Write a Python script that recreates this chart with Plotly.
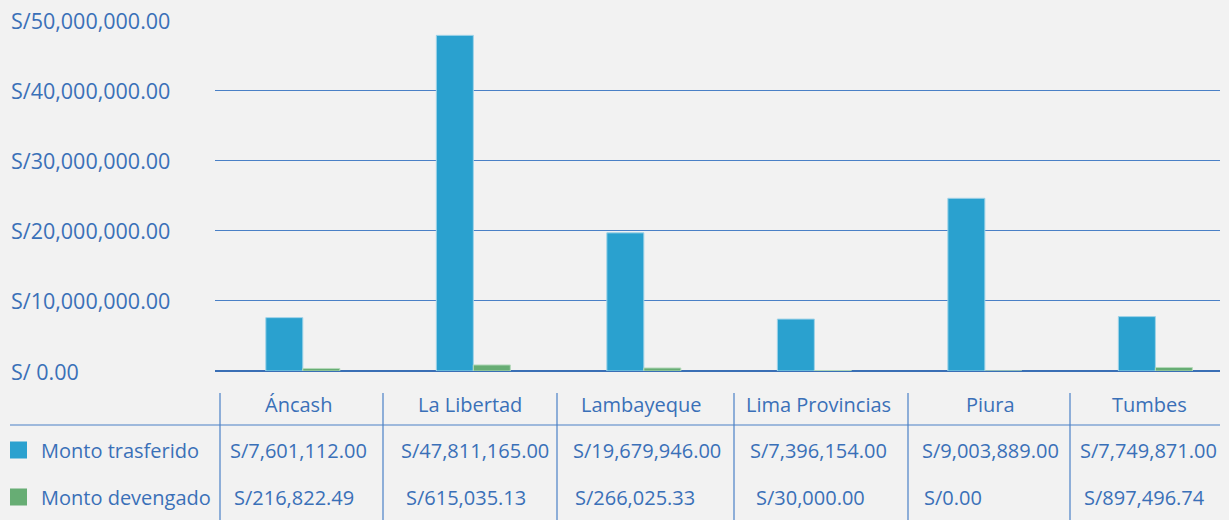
import plotly.graph_objects as go

regiones = ["Áncash", "La Libertad", "Lambayeque", "Lima Provincias", "Piura", "Tumbes"]
monto_trasferido = [7601112.00, 47811165.00, 19679946.00, 7396154.00, 24600000.00, 7749871.00]
monto_devengado = [360000.00, 860000.00, 430000.00, 60000.00, 0.00, 500000.00]
tabla_trasferido = ["S/7,601,112.00", "S/47,811,165.00", "S/19,679,946.00", "S/7,396,154.00", "S/9,003,889.00", "S/7,749,871.00"]
tabla_devengado = ["S/216,822.49", "S/615,035.13", "S/266,025.33", "S/30,000.00", "S/0.00", "S/897,496.74"]
tick_vals = [0, 10000000, 20000000, 30000000, 40000000, 50000000]
tick_text = ["S/ 0.00", "S/10,000,000.00", "S/20,000,000.00", "S/30,000,000.00", "S/40,000,000.00", "S/50,000,000.00"]
series_names = ["Monto trasferido", "Monto devengado"]

BLUE = "#2aa1cf"
GREEN = "#67ad74"
TEXT = "#3a70b8"
LINE = "#4a80c6"
BG = "#f2f2f2"
FONT = "Open Sans"
TICK_SIZE = 21.5
TABLE_SIZE = 20

W, H = 1229, 520
L, R, T, B = 215, 1220, 20, 371

# table layout (pixels)
COL_SEP = [220, 383, 557, 734, 908, 1070]
COL_RIGHT = 1220
HEAD_X = [298, 470, 641, 818, 990, 1149]
ROW1_X = [298, 475, 647, 818, 990, 1148]
ROW2_X = [232, 404, 573, 754, 922, 1082]


def px(x):
    return (x - L) / (R - L)


def py(y):
    return (B - y) / (B - T)


fig = go.Figure()
fig.add_trace(go.Bar(x=regiones, y=monto_trasferido, name=series_names[0],
                     marker=dict(color=BLUE, line=dict(color="#9fd3e8", width=1))))
fig.add_trace(go.Bar(x=regiones, y=monto_devengado, name=series_names[1],
                     marker=dict(color=GREEN, line=dict(color="#b5d9bb", width=1))))

fig.update_layout(
    width=W, height=H,
    paper_bgcolor=BG, plot_bgcolor=BG,
    margin=dict(l=L, r=W - R, t=T, b=H - B),
    barmode="group", bargap=0.566, bargroupgap=0,
    showlegend=False,
    font=dict(family=FONT, color=TEXT, size=TABLE_SIZE),
    xaxis=dict(range=[-0.515, 5.379], showticklabels=False, showgrid=False, zeroline=False,
               showline=False, ticks=""),
    yaxis=dict(range=[0, 50000000], tickvals=tick_vals, showticklabels=False,
               showgrid=True, gridcolor=LINE, gridwidth=1,
               zeroline=True, zerolinecolor="#3a6fb5", zerolinewidth=2, showline=False),
)

ann = []
for v, t in zip(tick_vals, tick_text):
    ann.append(dict(x=px(9), y=v, xref="paper", yref="y", text=t, showarrow=False,
                    xanchor="left", yanchor="middle", font=dict(size=TICK_SIZE, color=TEXT)))

shapes = []
for xs in COL_SEP:
    shapes.append(dict(type="line", xref="paper", yref="paper", x0=px(xs), x1=px(xs),
                       y0=py(393), y1=py(520), line=dict(color=LINE, width=1.2)))
shapes.append(dict(type="line", xref="paper", yref="paper", x0=px(10), x1=px(COL_RIGHT),
                   y0=py(425), y1=py(425), line=dict(color=LINE, width=1.2)))
for yc, col in [(450, BLUE), (497, GREEN)]:
    shapes.append(dict(type="rect", xref="paper", yref="paper", x0=px(10), x1=px(27),
                       y0=py(yc - 8.5), y1=py(yc + 8.5), fillcolor=col, line=dict(width=0)))

for i, reg in enumerate(regiones):
    ann.append(dict(x=px(HEAD_X[i]), y=py(404), xref="paper", yref="paper", text=reg,
                    showarrow=False, xanchor="center", yanchor="middle", font=dict(size=TABLE_SIZE, color=TEXT)))
    ann.append(dict(x=px(ROW1_X[i]), y=py(450), xref="paper", yref="paper", text=tabla_trasferido[i],
                    showarrow=False, xanchor="center", yanchor="middle", font=dict(size=TABLE_SIZE, color=TEXT)))
    ann.append(dict(x=px(ROW2_X[i]), y=py(497), xref="paper", yref="paper", text=tabla_devengado[i],
                    showarrow=False, xanchor="left", yanchor="middle", font=dict(size=TABLE_SIZE, color=TEXT)))

ann.append(dict(x=px(39), y=py(450), xref="paper", yref="paper", text=series_names[0],
                showarrow=False, xanchor="left", yanchor="middle", font=dict(size=TABLE_SIZE, color=TEXT)))
ann.append(dict(x=px(39), y=py(497), xref="paper", yref="paper", text=series_names[1],
                showarrow=False, xanchor="left", yanchor="middle", font=dict(size=TABLE_SIZE, color=TEXT)))

fig.update_layout(annotations=ann, shapes=shapes)
fig.write_html("out.html", config={"displayModeBar": False},
               post_script="document.body.style.margin='0';document.body.style.backgroundColor='#f2f2f2';document.body.style.overflow='hidden';")
